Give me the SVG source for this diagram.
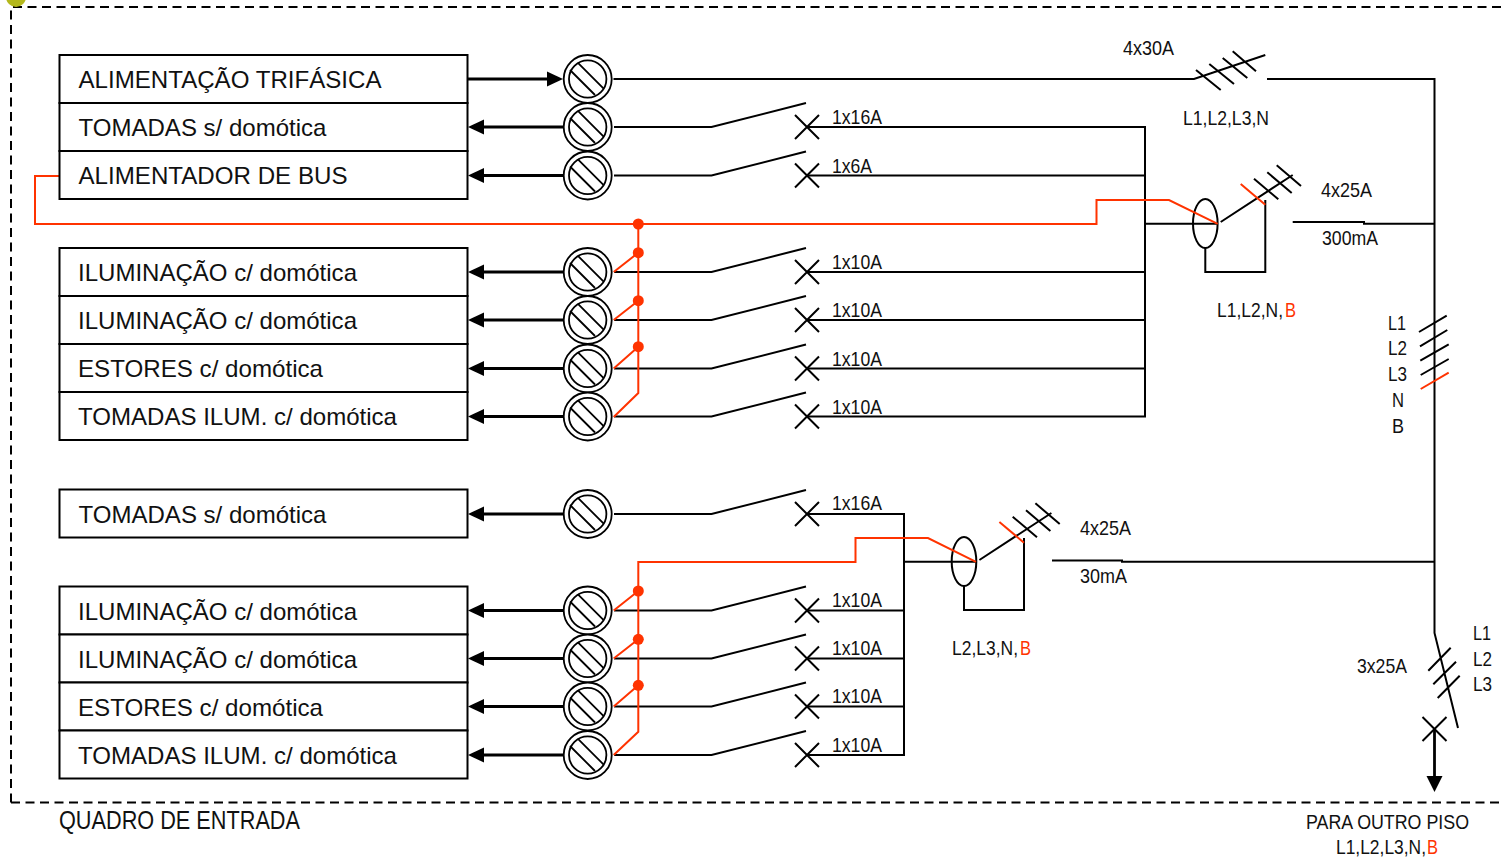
<svg xmlns="http://www.w3.org/2000/svg" xmlns:xlink="http://www.w3.org/1999/xlink" width="1501" height="859" viewBox="0 0 1501 859">
<style>
text{font-family:"Liberation Sans",Arial,sans-serif;fill:#111}
.b{font-size:24px}
.s{font-size:21px}
.q{font-size:25.500px}
.r{fill:#ff3300}
.box{fill:#fff;stroke:#000;stroke-width:2}
.w{fill:none;stroke:#000;stroke-width:2;stroke-linejoin:miter}
.t{fill:none;stroke:#000;stroke-width:2.800}
.red{fill:none;stroke:#ff3300;stroke-width:2}
.dash{fill:none;stroke:#000;stroke-width:2;stroke-dasharray:9 5.500}
.dot{fill:#ff3300}
</style>
<defs>
<g id="term">
<circle r="24" fill="#fff" stroke="#000" stroke-width="1.800"/>
<circle r="18.700" fill="none" stroke="#000" stroke-width="1.800"/>
<path d="M-10-16.300 15.700 9.300M-17.700-9 7.300 16" fill="none" stroke="#000" stroke-width="1.800"/>
</g>
<g id="sw">
<path d="M26 0H123.500L218-24M207-12 231 12M207 12 231-12" fill="none" stroke="#000" stroke-width="2"/>
</g>
<path id="ah" d="M0-7.500 16 0 0 7.500Z" fill="#000"/>
</defs>

<path class="dash" d="M11 802.500V7H1501M11 802.500H1501"/>
<circle cx="16" cy="-3" r="10" fill="#b4b81c"/>

<g id="connectors">
<path class="t" d="M468 79H550M484 127H564M484 175.500H564M484 272H564M484 320H564M484 368.500H564M484 416.500H564M484 514H564M484 610.500H564M484 658.500H564M484 706.500H564M484 755H564"/>
<use xlink:href="#ah" href="#ah" transform="translate(547 79)"/>
<use xlink:href="#ah" href="#ah" transform="translate(484 127) scale(-1 1)"/>
<use xlink:href="#ah" href="#ah" transform="translate(484 175.500) scale(-1 1)"/>
<use xlink:href="#ah" href="#ah" transform="translate(484 272) scale(-1 1)"/>
<use xlink:href="#ah" href="#ah" transform="translate(484 320) scale(-1 1)"/>
<use xlink:href="#ah" href="#ah" transform="translate(484 368.500) scale(-1 1)"/>
<use xlink:href="#ah" href="#ah" transform="translate(484 416.500) scale(-1 1)"/>
<use xlink:href="#ah" href="#ah" transform="translate(484 514) scale(-1 1)"/>
<use xlink:href="#ah" href="#ah" transform="translate(484 610.500) scale(-1 1)"/>
<use xlink:href="#ah" href="#ah" transform="translate(484 658.500) scale(-1 1)"/>
<use xlink:href="#ah" href="#ah" transform="translate(484 706.500) scale(-1 1)"/>
<use xlink:href="#ah" href="#ah" transform="translate(484 755) scale(-1 1)"/>

<path class="w" d="M613.500 79H1194L1265.300 55M1196 70 1220.700 90M1209.300 64 1234 84M1222.700 58 1247.300 78M1232.700 51.300 1256 71.300M1267 79H1434.500V633L1458 728M1428.300 670.700 1450.700 647.700M1433.300 684.300 1456 661.700M1437.700 698 1459.700 675.700M1422.500 717 1446.500 741M1422.500 741 1446.500 717"/>
<path class="t" d="M1434.500 729V778"/>
<path d="M1426.500 776H1442.500L1434.500 792Z" fill="#000"/>
<path class="w" d="M1419 332 1446.700 315.700M1420 346.300 1447.300 330M1420.300 360.700 1448.700 344.300M1420.700 375 1448.700 359"/>
<path class="red" d="M1420.700 389 1448.700 372.700"/>

<g id="switches-a">
<use xlink:href="#sw" href="#sw" transform="translate(588 127)"/>
<use xlink:href="#sw" href="#sw" transform="translate(588 175.500)"/>
<use xlink:href="#sw" href="#sw" transform="translate(588 272)"/>
<use xlink:href="#sw" href="#sw" transform="translate(588 320)"/>
<use xlink:href="#sw" href="#sw" transform="translate(588 368.500)"/>
<use xlink:href="#sw" href="#sw" transform="translate(588 416.500)"/>
</g>
<g id="switches-b">
<use xlink:href="#sw" href="#sw" transform="translate(588 514)"/>
<use xlink:href="#sw" href="#sw" transform="translate(588 610.500)"/>
<use xlink:href="#sw" href="#sw" transform="translate(588 658.500)"/>
<use xlink:href="#sw" href="#sw" transform="translate(588 706.500)"/>
<use xlink:href="#sw" href="#sw" transform="translate(588 755)"/>
</g>
<path class="w" d="M807 127H1145V416.500H807M807 175.500H1145M807 272H1145M807 320H1145M807 368.500H1145"/>
<path class="w" d="M807 514H904V755H807M807 610.500H904M807 658.500H904M807 706.500H904"/>

<g id="rcd-1">
<path class="w" d="M1145 223.800H1217.500M1220.700 222 1292.700 175M1254 178.700 1278.300 199.300M1267.300 172.300 1291.700 193M1276.700 165.300 1301 186M1265.300 200V272H1205.300V248M1292.700 222H1364V223.800H1434.500"/>
<ellipse class="w" cx="1205.300" cy="223.500" rx="12.300" ry="24.500"/>
<path class="red" d="M1240.700 184 1265.300 204.700"/>
</g>
<g id="rcd-2">
<path class="w" d="M904 561.800H976M979.400 560 1051.400 513M1012.700 516.700 1037 537.300M1026 510.300 1050.400 531M1035.400 503.300 1059.700 524M1024 538V610H964V586M1052 560.500H1122V561.800H1434.500"/>
<ellipse class="w" cx="964" cy="561.500" rx="12.300" ry="24.500"/>
<path class="red" d="M999.400 522 1024 542.700"/>
</g>
<g id="bus-red">
<path class="red" d="M59 176H35V224H1096.500V200H1169L1217.700 223.800"/>
<path class="red" d="M638.300 224V393L613.700 417M613.700 272 638.300 252.700M613.700 320 638.300 300.700M613.700 368.500 638.300 346.700"/>
<path class="red" d="M976 561.800 928 538H855.500V562H638.300V731.700L613.700 755M613.700 610.500 638.300 591M613.700 658.500 638.300 639.300M613.700 706.500 638.300 685.300"/>
<circle class="dot" cx="638.300" cy="224" r="5.500"/>
<circle class="dot" cx="638.300" cy="252.700" r="5.500"/>
<circle class="dot" cx="638.300" cy="300.700" r="5.500"/>
<circle class="dot" cx="638.300" cy="346.700" r="5.500"/>
<circle class="dot" cx="638.300" cy="591" r="5.500"/>
<circle class="dot" cx="638.300" cy="639.300" r="5.500"/>
<circle class="dot" cx="638.300" cy="685.300" r="5.500"/>
</g>
</g>

<g id="n-alimentacao"><rect class="box" x="59.500" y="55" width="408" height="48"/><text class="b" x="78.500" y="88" textLength="303" lengthAdjust="spacingAndGlyphs">ALIMENTAÇÃO TRIFÁSICA</text><use xlink:href="#term" href="#term" x="587.700" y="79"/></g>
<g id="n-tomadas-1"><rect class="box" x="59.500" y="103" width="408" height="48"/><text class="b" x="78.500" y="136" textLength="248" lengthAdjust="spacingAndGlyphs">TOMADAS s/ domótica</text><use xlink:href="#term" href="#term" x="587.700" y="127"/></g>
<g id="n-bus"><rect class="box" x="59.500" y="151" width="408" height="48"/><text class="b" x="78.500" y="184" textLength="269" lengthAdjust="spacingAndGlyphs">ALIMENTADOR DE BUS</text><use xlink:href="#term" href="#term" x="587.700" y="175.500"/></g>

<g id="n-ilum-1"><rect class="box" x="59.500" y="248" width="408" height="48"/><text class="b" x="78" y="281" textLength="279" lengthAdjust="spacingAndGlyphs">ILUMINAÇÃO c/ domótica</text><use xlink:href="#term" href="#term" x="587.700" y="272"/></g>
<g id="n-ilum-2"><rect class="box" x="59.500" y="296" width="408" height="48"/><text class="b" x="78" y="329" textLength="279" lengthAdjust="spacingAndGlyphs">ILUMINAÇÃO c/ domótica</text><use xlink:href="#term" href="#term" x="587.700" y="320"/></g>
<g id="n-estores-1"><rect class="box" x="59.500" y="344" width="408" height="48"/><text class="b" x="78" y="377" textLength="245" lengthAdjust="spacingAndGlyphs">ESTORES c/ domótica</text><use xlink:href="#term" href="#term" x="587.700" y="368.500"/></g>
<g id="n-tomilum-1"><rect class="box" x="59.500" y="392" width="408" height="48"/><text class="b" x="78" y="425" textLength="319" lengthAdjust="spacingAndGlyphs">TOMADAS ILUM. c/ domótica</text><use xlink:href="#term" href="#term" x="587.700" y="416.500"/></g>

<g id="n-tomadas-2"><rect class="box" x="59.500" y="489.500" width="408" height="48"/><text class="b" x="78.500" y="523" textLength="248" lengthAdjust="spacingAndGlyphs">TOMADAS s/ domótica</text><use xlink:href="#term" href="#term" x="587.700" y="514"/></g>

<g id="n-ilum-3"><rect class="box" x="59.500" y="586.500" width="408" height="48"/><text class="b" x="78" y="620" textLength="279" lengthAdjust="spacingAndGlyphs">ILUMINAÇÃO c/ domótica</text><use xlink:href="#term" href="#term" x="587.700" y="610.500"/></g>
<g id="n-ilum-4"><rect class="box" x="59.500" y="634.500" width="408" height="48"/><text class="b" x="78" y="668" textLength="279" lengthAdjust="spacingAndGlyphs">ILUMINAÇÃO c/ domótica</text><use xlink:href="#term" href="#term" x="587.700" y="658.500"/></g>
<g id="n-estores-2"><rect class="box" x="59.500" y="682.500" width="408" height="48"/><text class="b" x="78" y="716" textLength="245" lengthAdjust="spacingAndGlyphs">ESTORES c/ domótica</text><use xlink:href="#term" href="#term" x="587.700" y="706.500"/></g>
<g id="n-tomilum-2"><rect class="box" x="59.500" y="730.500" width="408" height="48"/><text class="b" x="78" y="764" textLength="319" lengthAdjust="spacingAndGlyphs">TOMADAS ILUM. c/ domótica</text><use xlink:href="#term" href="#term" x="587.700" y="755"/></g>

<g id="labels">
<text class="s" x="832" y="124" textLength="50" lengthAdjust="spacingAndGlyphs">1x16A</text>
<text class="s" x="832" y="173" textLength="40" lengthAdjust="spacingAndGlyphs">1x6A</text>
<text class="s" x="832" y="269" textLength="50" lengthAdjust="spacingAndGlyphs">1x10A</text>
<text class="s" x="832" y="317" textLength="50" lengthAdjust="spacingAndGlyphs">1x10A</text>
<text class="s" x="832" y="366" textLength="50" lengthAdjust="spacingAndGlyphs">1x10A</text>
<text class="s" x="832" y="414" textLength="50" lengthAdjust="spacingAndGlyphs">1x10A</text>
<text class="s" x="832" y="510" textLength="50" lengthAdjust="spacingAndGlyphs">1x16A</text>
<text class="s" x="832" y="607" textLength="50" lengthAdjust="spacingAndGlyphs">1x10A</text>
<text class="s" x="832" y="655" textLength="50" lengthAdjust="spacingAndGlyphs">1x10A</text>
<text class="s" x="832" y="703" textLength="50" lengthAdjust="spacingAndGlyphs">1x10A</text>
<text class="s" x="832" y="752" textLength="50" lengthAdjust="spacingAndGlyphs">1x10A</text>
<text class="s" x="1123" y="55" textLength="51" lengthAdjust="spacingAndGlyphs">4x30A</text>
<text class="s" x="1183" y="125" textLength="86" lengthAdjust="spacingAndGlyphs">L1,L2,L3,N</text>
<text class="s" x="1321" y="197" textLength="51" lengthAdjust="spacingAndGlyphs">4x25A</text>
<text class="s" x="1322" y="245" textLength="56" lengthAdjust="spacingAndGlyphs">300mA</text>
<text class="s" x="1217" y="317" textLength="66" lengthAdjust="spacingAndGlyphs">L1,L2,N,</text>
<text class="s r" x="1285" y="317" textLength="11" lengthAdjust="spacingAndGlyphs">B</text>
<text class="s" x="952" y="655" textLength="66" lengthAdjust="spacingAndGlyphs">L2,L3,N,</text>
<text class="s r" x="1020" y="655" textLength="11" lengthAdjust="spacingAndGlyphs">B</text>
<text class="s" x="1080" y="535" textLength="51" lengthAdjust="spacingAndGlyphs">4x25A</text>
<text class="s" x="1080" y="583" textLength="47" lengthAdjust="spacingAndGlyphs">30mA</text>
<text class="s" x="1357" y="673" textLength="50" lengthAdjust="spacingAndGlyphs">3x25A</text>
<text class="s" x="1388" y="330" textLength="18" lengthAdjust="spacingAndGlyphs">L1</text>
<text class="s" x="1388" y="355" textLength="19" lengthAdjust="spacingAndGlyphs">L2</text>
<text class="s" x="1388" y="381" textLength="19" lengthAdjust="spacingAndGlyphs">L3</text>
<text class="s" x="1392" y="407" textLength="12" lengthAdjust="spacingAndGlyphs">N</text>
<text class="s" x="1392" y="433" textLength="12" lengthAdjust="spacingAndGlyphs">B</text>
<text class="s" x="1473" y="640" textLength="18" lengthAdjust="spacingAndGlyphs">L1</text>
<text class="s" x="1473" y="666" textLength="19" lengthAdjust="spacingAndGlyphs">L2</text>
<text class="s" x="1473" y="691" textLength="19" lengthAdjust="spacingAndGlyphs">L3</text>
<text class="q" x="59" y="829" textLength="241" lengthAdjust="spacingAndGlyphs">QUADRO DE ENTRADA</text>
<text class="s" x="1306" y="829" textLength="163" lengthAdjust="spacingAndGlyphs">PARA OUTRO PISO</text>
<text class="s" x="1336" y="854" textLength="90" lengthAdjust="spacingAndGlyphs">L1,L2,L3,N,</text>
<text class="s r" x="1427" y="854" textLength="11" lengthAdjust="spacingAndGlyphs">B</text>
</g>
</svg>
